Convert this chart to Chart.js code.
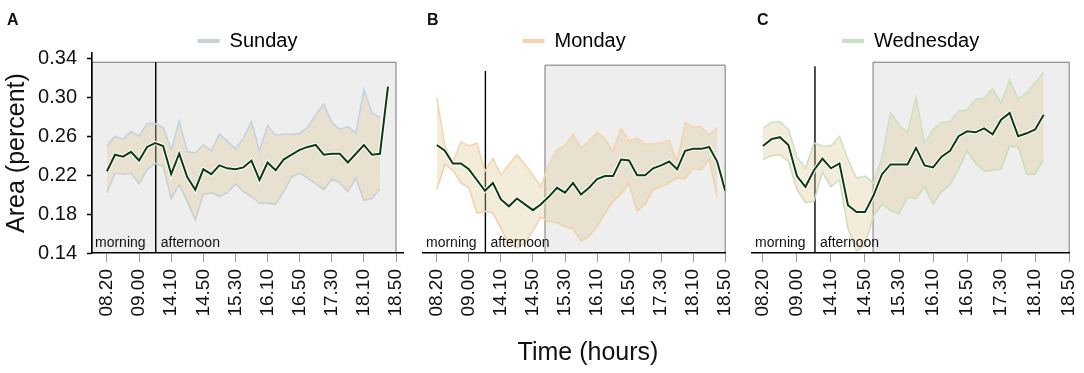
<!DOCTYPE html>
<html>
<head>
<meta charset="utf-8">
<script src="https://cdn.jsdelivr.net/npm/chart.js@4.4.1/dist/chart.umd.min.js"></script>
<style>
  body { margin: 0; background: #fff; overflow: hidden; }
  #figura { position: relative; width: 1084px; height: 373px; overflow: hidden; font-family: Arial, "Liberation Sans", sans-serif; color: #111; }
  canvas { position: absolute; top: 0; }
  .letra { position: absolute; top: 12px; font-size: 16px; font-weight: bold; line-height: 16px; }
  #tituloX { position: absolute; top: 339px; left: 488px; width: 200px; text-align: center; font-size: 25px; line-height: 25px; }
</style>
</head>
<body>
<div id="figura">
  <canvas id="graficoA" width="430" height="373" style="left:0px"></canvas>
  <canvas id="graficoB" width="340" height="373" style="left:415px"></canvas>
  <canvas id="graficoC" width="359" height="373" style="left:740px"></canvas>
  <div class="letra" style="left:7px">A</div>
  <div class="letra" style="left:427px">B</div>
  <div class="letra" style="left:757px">C</div>
  <div id="tituloX">Time (hours)</div>
</div>
<script>
// rótulos do eixo x (um a cada 4 medições de 10 min)
const rotulosTempo = ['08.20', '09.00', '14.10', '14.50', '15.30', '16.10', '16.50', '17.30', '18.10', '18.50'];
const posicoesTicks = [0, 4, 8, 12, 16, 20, 24, 28, 32, 36];
const ticksArea = [0.14, 0.18, 0.22, 0.26, 0.30, 0.34];

// Domingo
const domingoMedia = [0.224, 0.241, 0.239, 0.244, 0.235, 0.249, 0.253, 0.250, 0.221, 0.242, 0.218, 0.205, 0.226, 0.221, 0.230, 0.227, 0.226, 0.228, 0.235, 0.215, 0.233, 0.225, 0.236, 0.241, 0.246, 0.249, 0.251, 0.241, 0.242, 0.242, 0.233, 0.242, 0.251, 0.241, 0.242, 0.311];
const domingoSup = [0.250, 0.260, 0.257, 0.265, 0.260, 0.273, 0.273, 0.269, 0.246, 0.276, 0.244, 0.243, 0.251, 0.245, 0.262, 0.255, 0.247, 0.258, 0.275, 0.245, 0.271, 0.261, 0.262, 0.262, 0.263, 0.269, 0.282, 0.293, 0.274, 0.267, 0.270, 0.263, 0.308, 0.284, 0.279];
const domingoInf = [0.202, 0.222, 0.221, 0.222, 0.211, 0.226, 0.232, 0.229, 0.196, 0.210, 0.193, 0.174, 0.200, 0.202, 0.198, 0.202, 0.211, 0.203, 0.198, 0.191, 0.191, 0.190, 0.203, 0.218, 0.222, 0.217, 0.211, 0.205, 0.216, 0.212, 0.203, 0.217, 0.194, 0.196, 0.206];

// Segunda
const segundaMedia = [0.251, 0.245, 0.232, 0.232, 0.226, 0.215, 0.204, 0.212, 0.195, 0.188, 0.196, 0.190, 0.184, 0.190, 0.198, 0.207, 0.202, 0.212, 0.200, 0.207, 0.216, 0.219, 0.219, 0.236, 0.235, 0.220, 0.220, 0.227, 0.230, 0.234, 0.226, 0.245, 0.247, 0.247, 0.249, 0.234, 0.204];
const segundaSup = [0.300, 0.250, 0.234, 0.254, 0.250, 0.253, 0.224, 0.237, 0.220, 0.231, 0.241, 0.231, 0.220, 0.208, 0.232, 0.246, 0.250, 0.262, 0.248, 0.255, 0.264, 0.257, 0.245, 0.268, 0.255, 0.258, 0.252, 0.252, 0.253, 0.256, 0.234, 0.274, 0.269, 0.270, 0.261, 0.269];
const segundaInf = [0.205, 0.231, 0.225, 0.212, 0.207, 0.181, 0.183, 0.181, 0.165, 0.150, 0.145, 0.150, 0.163, 0.177, 0.172, 0.171, 0.167, 0.165, 0.152, 0.157, 0.167, 0.181, 0.193, 0.201, 0.211, 0.183, 0.190, 0.205, 0.208, 0.212, 0.217, 0.216, 0.227, 0.225, 0.236, 0.198];

// Quarta
const quartaMedia = [0.250, 0.257, 0.259, 0.251, 0.219, 0.208, 0.225, 0.237, 0.227, 0.232, 0.189, 0.182, 0.182, 0.199, 0.221, 0.231, 0.231, 0.231, 0.248, 0.230, 0.228, 0.239, 0.245, 0.260, 0.265, 0.264, 0.268, 0.262, 0.277, 0.284, 0.260, 0.263, 0.267, 0.282];
const quartaSup = [0.268, 0.274, 0.275, 0.267, 0.239, 0.227, 0.253, 0.250, 0.250, 0.260, 0.236, 0.217, 0.219, 0.212, 0.239, 0.284, 0.272, 0.264, 0.300, 0.253, 0.267, 0.274, 0.275, 0.286, 0.287, 0.298, 0.299, 0.309, 0.294, 0.318, 0.298, 0.305, 0.315, 0.326];
const quartaInf = [0.236, 0.240, 0.241, 0.234, 0.205, 0.192, 0.193, 0.223, 0.208, 0.215, 0.165, 0.142, 0.148, 0.178, 0.190, 0.184, 0.180, 0.197, 0.196, 0.208, 0.190, 0.203, 0.210, 0.226, 0.245, 0.232, 0.224, 0.225, 0.226, 0.250, 0.249, 0.221, 0.221, 0.236];

Chart.defaults.font.family = 'Arial, "Liberation Sans", sans-serif';
Chart.defaults.color = '#111';

const corFaixa = 'rgba(222, 200, 150, 0.35)';
const corMedia = '#0e3a12';

function pontos(valores) {
    return valores.map((v, i) => ({ x: i, y: v }));
}

// bloco cinza, linha manhã/tarde e os textos
const marcasSessao = {
    id: 'marcasSessao',
    beforeDraw(chart, args, opts) {
        const { ctx, chartArea, scales: { x, y } } = chart;
        const esq = x.getPixelForValue(opts.sombraInicio);
        const dir = x.getPixelForValue(opts.sombraFim);
        const topo = y.getPixelForValue(opts.sombraTopo);
        ctx.save();
        ctx.fillStyle = '#eeeeee';
        ctx.fillRect(esq, topo, dir - esq, chartArea.bottom - topo);
        ctx.strokeStyle = '#777';
        ctx.lineWidth = 1;
        ctx.beginPath();
        ctx.moveTo(esq, chartArea.bottom);
        ctx.lineTo(esq, topo);
        ctx.lineTo(dir, topo);
        ctx.lineTo(dir, chartArea.bottom);
        ctx.stroke();

        const xl = x.getPixelForValue(opts.divisao);
        ctx.strokeStyle = '#000';
        ctx.lineWidth = 1.4;
        ctx.beginPath();
        ctx.moveTo(xl, y.getPixelForValue(opts.divisaoTopo));
        ctx.lineTo(xl, chartArea.bottom);
        ctx.stroke();
        ctx.restore();
    },
    afterDatasetsDraw(chart, args, opts) {
        const { ctx, chartArea, scales: { x } } = chart;
        const xl = x.getPixelForValue(opts.divisao);
        ctx.save();
        ctx.font = '14px Arial, "Liberation Sans", sans-serif';
        ctx.fillStyle = '#111';
        ctx.textBaseline = 'alphabetic';
        ctx.fillText('morning', chartArea.left + 3, chartArea.bottom - 6);
        ctx.fillText('afternoon', xl + 5, chartArea.bottom - 6);
        ctx.restore();
    }
};

function criarPainel(id, cfg) {
    const eixoY = cfg.mostrarY ? {
        min: 0.14,
        max: 0.3455,
        afterBuildTicks: s => { s.ticks = ticksArea.map(v => ({ value: v })); },
        afterFit: s => { s.width = 92; },
        ticks: { padding: 10, font: { size: 20 }, color: '#111', callback: v => v.toFixed(2) },
        grid: { drawOnChartArea: false, tickLength: 5, tickColor: '#000', tickWidth: 1.5 },
        border: { color: '#000', width: 1.6 },
        title: { display: true, text: 'Area (percent)', font: { size: 25 }, color: '#111', padding: { top: 2, bottom: 0 } }
    } : { display: false, min: 0.14, max: 0.3455 };

    return new Chart(document.getElementById(id), {
        type: 'line',
        data: {
            datasets: [
                { data: pontos(cfg.media), borderColor: corMedia, borderWidth: 2, pointRadius: 0, fill: false },
                { data: pontos(cfg.media), borderColor: '#ffffff', borderWidth: 4, pointRadius: 0, fill: false },
                { data: pontos(cfg.sup), borderColor: cfg.cor, borderWidth: 1.5, pointRadius: 0,
                  fill: { target: '+1', above: corFaixa, below: corFaixa } },
                { data: pontos(cfg.inf), borderColor: cfg.cor, borderWidth: 1.5, pointRadius: 0, fill: false }
            ]
        },
        options: {
            responsive: false,
            animation: false,
            layout: { padding: { top: 25, left: cfg.padEsq, right: 27, bottom: 0 } },
            plugins: {
                tooltip: { enabled: false },
                legend: {
                    position: 'top',
                    fullSize: false,
                    maxHeight: 28,
                    onClick: null,
                    labels: {
                        boxWidth: 22, boxHeight: 4, padding: 6,
                        font: { size: 20 }, color: '#111',
                        generateLabels: () => [{ text: cfg.nome, fillStyle: cfg.cor, strokeStyle: cfg.cor, lineWidth: 0, hidden: false, datasetIndex: 2 }]
                    }
                },
                marcasSessao: cfg.marcas
            },
            scales: {
                x: {
                    type: 'linear',
                    min: cfg.xMin,
                    max: cfg.xMax,
                    afterBuildTicks: s => { s.ticks = posicoesTicks.map(v => ({ value: v })); },
                    afterFit: s => { s.height = 120; },
                    ticks: {
                        autoSkip: false, minRotation: 90, maxRotation: 90, padding: 7,
                        font: { size: 19 }, color: '#111',
                        callback: (v, i) => rotulosTempo[i]
                    },
                    grid: { drawOnChartArea: false, tickLength: 9, tickColor: '#999', tickWidth: 1 },
                    border: { color: '#000', width: 1.6 }
                },
                y: eixoY
            }
        },
        plugins: [marcasSessao]
    });
}

criarPainel('graficoA', {
    nome: 'Sunday', cor: '#c3d2df', media: domingoMedia, sup: domingoSup, inf: domingoInf,
    mostrarY: true, padEsq: 0, xMin: -1.86, xMax: 36.87,
    marcas: { sombraInicio: -1.86, sombraFim: 36, sombraTopo: 0.336, divisao: 6.08, divisaoTopo: 0.336 }
});

criarPainel('graficoB', {
    nome: 'Monday', cor: '#f7d3ad', media: segundaMedia, sup: segundaSup, inf: segundaInf,
    mostrarY: false, padEsq: 8, xMin: -1.73, xMax: 36,
    marcas: { sombraInicio: 13.5, sombraFim: 36, sombraTopo: 0.333, divisao: 6.06, divisaoTopo: 0.327 }
});

criarPainel('graficoC', {
    nome: 'Wednesday', cor: '#c9e2c2', media: quartaMedia, sup: quartaSup, inf: quartaInf,
    mostrarY: false, padEsq: 12, xMin: -1.28, xMax: 36,
    marcas: { sombraInicio: 12.95, sombraFim: 36, sombraTopo: 0.336, divisao: 6.12, divisaoTopo: 0.332 }
});
</script>
</body>
</html>
